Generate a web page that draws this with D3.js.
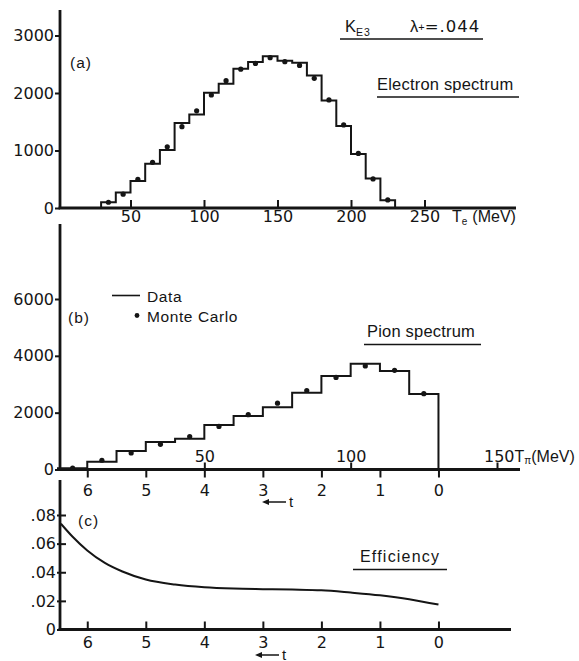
<!DOCTYPE html>
<html>
<head>
<meta charset="utf-8">
<script src="https://cdn.jsdelivr.net/npm/d3@7"></script>
<style>
  body { margin: 0; background: #fff; }
  svg { display: block; }
  .lbl { font-family: "Liberation Sans", Arial, sans-serif; fill: #151515; }
  .num { font-family: "DejaVu Sans", sans-serif; fill: #151515; }
</style>
</head>
<body>
<svg id="chart" width="579" height="661"></svg>
<script>
// ---------- data ----------
// (a) electron kinetic energy spectrum, 10 MeV bins (lower edges, MeV)
const electronBins = [30, 40, 50, 60, 70, 80, 90, 100, 110, 120, 130, 140, 150, 160, 170, 180, 190, 200, 210, 220];
const electronData = [100, 270, 470, 770, 1010, 1480, 1625, 2005, 2160, 2420, 2540, 2640, 2560, 2525, 2305, 1870, 1425, 940, 515, 135];
const electronMC   = [100, 240, 500, 795, 1065, 1415, 1690, 1965, 2215, 2415, 2515, 2615, 2545, 2480, 2255, 1880, 1445, 950, 505, 140];
const electronXTicks = [50, 100, 150, 200, 250];
const electronYTicks = [0, 1000, 2000, 3000];

// (b) pion kinetic energy spectrum, 10 MeV bins (lower edges, MeV)
const pionBins = [0, 10, 20, 30, 40, 50, 60, 70, 80, 90, 100, 110, 120];
const pionData = [40, 275, 650, 965, 1080, 1565, 1880, 2195, 2705, 3290, 3720, 3465, 2660];
const pionMC   = [45, 325, 580, 885, 1160, 1515, 1930, 2335, 2780, 3240, 3645, 3490, 2670];
const pionXTicks = [50, 100, 150];
const pionYTicks = [0, 2000, 4000, 6000];

// momentum transfer t, shared by (b) and (c)
const tTicks = [6, 5, 4, 3, 2, 1, 0];

// (c) detection efficiency versus t
const effT   = [6.45, 6.25, 6, 5.7, 5.4, 5, 4.5, 4, 3.5, 3, 2.5, 2, 1.5, 1, 0.5, 0];
const effVal = [0.0739, 0.0648, 0.0552, 0.0465, 0.0405, 0.0349, 0.0314, 0.0295, 0.0286, 0.0282, 0.0279, 0.0274, 0.0258, 0.0239, 0.0212, 0.0174];
const effYTicks = [0, 0.02, 0.04, 0.06, 0.08];

const binWidth = 10;

// ---------- drawing ----------
const ink = "#151515";
const svg = d3.select("#chart");

// panel frames
const A = { left: 60, right: 516, top: 10, base: 208 };
const B = { left: 60, right: 520, top: 224, base: 469.5 };
const C = { left: 60, right: 511, top: 480, base: 629.5 };

const xE  = d3.scaleLinear().domain([0, 250]).range([57, 424.5]);
const yA  = d3.scaleLinear().domain([0, 3000]).range([A.base, 35.5]);
const xPi = d3.scaleLinear().domain([0, 150]).range([58, 497]);
const tS  = d3.scaleLinear().domain([0, 6]).range([xPi(130), xPi(10)]);
const yB  = d3.scaleLinear().domain([0, 6000]).range([B.base, 299]);
const yC  = d3.scaleLinear().domain([0, 0.08]).range([C.base, 515]);

function frame(p) {
  svg.append("line").attr("x1", p.left).attr("x2", p.left).attr("y1", p.top).attr("y2", p.base)
    .attr("stroke", ink).attr("stroke-width", 2.8);
  svg.append("line").attr("x1", p.left - 1.4).attr("x2", p.right).attr("y1", p.base).attr("y2", p.base)
    .attr("stroke", ink).attr("stroke-width", 2.8);
}

function styleAxis(g, size) {
  g.select(".domain").remove();
  g.selectAll(".tick line").attr("stroke", ink).attr("stroke-width", 2);
  g.selectAll(".tick text").attr("class", "num").attr("fill", ink)
    .style("font-size", (size || 16) + "px");
}

function histogram(x, y, bins, vals) {
  const pts = [[bins[0], 0]];
  bins.forEach((b, i) => pts.push([b, vals[i]]));
  pts.push([bins[bins.length - 1] + binWidth, 0]);
  const line = d3.line().x(d => x(d[0])).y(d => y(d[1])).curve(d3.curveStepAfter);
  svg.append("path").attr("d", line(pts)).attr("fill", "none")
    .attr("stroke", ink).attr("stroke-width", 2).attr("stroke-linejoin", "miter");
}

function dots(x, y, bins, vals) {
  svg.append("g").selectAll("circle").data(bins).join("circle")
    .attr("cx", (b) => x(b + binWidth / 2))
    .attr("cy", (b, i) => y(vals[i]))
    .attr("r", 2.6).attr("fill", ink);
}

function label(x, y, txt, size, spacing) {
  return svg.append("text").attr("class", "lbl").attr("x", x).attr("y", y)
    .style("font-size", (size || 16) + "px")
    .style("letter-spacing", (spacing || 0) + "px")
    .text(txt);
}

function underline(x1, x2, y) {
  svg.append("line").attr("x1", x1).attr("x2", x2).attr("y1", y).attr("y2", y)
    .attr("stroke", ink).attr("stroke-width", 1.6);
}

function tArrow(x, y) {
  svg.append("path").attr("d", `M${x + 24},${y} H${x + 4}`).attr("stroke", ink).attr("stroke-width", 1.5);
  svg.append("path").attr("d", `M${x},${y} L${x + 7},${y - 3} L${x + 7},${y + 3} Z`).attr("fill", ink);
  label(x + 27, y + 4.5, "t", 15);
}

const intFmt = d3.format("d");

// ===== (a) electron spectrum =====
frame(A);
svg.append("g").attr("transform", `translate(${A.left},0)`)
  .call(d3.axisLeft(yA).tickValues(electronYTicks).tickSize(5).tickPadding(1).tickFormat(intFmt))
  .call(g => styleAxis(g));
svg.append("g").attr("transform", `translate(0,${A.base})`)
  .call(d3.axisBottom(xE).tickValues(electronXTicks).tickSizeInner(-8).tickSizeOuter(0).tickPadding(3).tickFormat(intFmt))
  .call(g => styleAxis(g));
histogram(xE, yA, electronBins, electronData);
dots(xE, yA, electronBins, electronMC);

label(70, 68, "(a)", 15.5, 1);
// T_e (MeV)
const te = label(452, 222, "T", 16);
te.append("tspan").attr("dy", 3).style("font-size", "10px").text("e");
te.append("tspan").attr("dy", -3).attr("dx", 5).text("(MeV)");

// title block
const k = label(345, 32, "K", 16.5);
k.append("tspan").attr("dy", 3.5).style("font-size", "10.5px").style("letter-spacing", "1px").text("E3");
const lam = label(410, 32, "λ", 16.5);
lam.append("tspan").attr("dy", -1).style("font-size", "11px").text("+");
lam.append("tspan").attr("dy", 1).attr("class", "num").style("letter-spacing", "1px").text("=.044");
underline(340, 483, 39);

label(377, 90, "Electron spectrum", 16.5, 0.2);
underline(377, 519, 97);

// ===== (b) pion spectrum =====
frame(B);
svg.append("g").attr("transform", `translate(${B.left},0)`)
  .call(d3.axisLeft(yB).tickValues(pionYTicks).tickSize(5).tickPadding(1).tickFormat(intFmt))
  .call(g => styleAxis(g));
svg.append("g").attr("transform", `translate(0,${B.base})`)
  .call(d3.axisTop(xPi).tickValues(pionXTicks).tickSize(7).tickPadding(1)
    .tickFormat(d => d === 150 ? "" : intFmt(d)))
  .call(g => styleAxis(g));
svg.append("g").attr("transform", `translate(0,${B.base})`)
  .call(d3.axisBottom(tS).tickValues(tTicks).tickSize(8).tickPadding(7).tickFormat(intFmt))
  .call(g => styleAxis(g));
histogram(xPi, yB, pionBins, pionData);
dots(xPi, yB, pionBins, pionMC);

// T_pi (MeV) axis title next to the 150 tick
const tp = svg.append("text").attr("class", "num").attr("x", xPi(150) - 13).attr("y", 462)
  .style("font-size", "16px").text("150");
tp.append("tspan").attr("class", "lbl").text("T");
tp.append("tspan").attr("class", "lbl").attr("dy", 2).style("font-size", "10px").text("π");
tp.append("tspan").attr("class", "lbl").attr("dy", -2).text("(MeV)");

tArrow(262, 502);
label(68, 323, "(b)", 15.5, 1);

// legend
svg.append("line").attr("x1", 112).attr("x2", 140).attr("y1", 295.5).attr("y2", 295.5)
  .attr("stroke", ink).attr("stroke-width", 1.6);
label(147, 302, "Data", 15.5, 0.6);
svg.append("circle").attr("cx", 137).attr("cy", 315.5).attr("r", 2.4).attr("fill", ink);
label(147, 322, "Monte Carlo", 15.5, 0.6);

label(367, 337, "Pion spectrum", 16.5, 0.2);
underline(364, 481, 344.5);

// ===== (c) efficiency =====
frame(C);
svg.append("g").attr("transform", `translate(${C.left},0)`)
  .call(d3.axisLeft(yC).tickValues(effYTicks).tickSizeInner(-6).tickPadding(4)
    .tickFormat(d => d === 0 ? "0" : d3.format(".2f")(d).replace(/^0/, "")))
  .call(g => styleAxis(g))
  .call(g => g.selectAll(".tick line").attr("x1", -3));
svg.append("g").attr("transform", `translate(0,${C.base})`)
  .call(d3.axisBottom(tS).tickValues(tTicks).tickSizeInner(-8).tickSizeOuter(0).tickPadding(7).tickFormat(intFmt))
  .call(g => styleAxis(g));

const effLine = d3.line().x((d, i) => tS(effT[i])).y(d => yC(d)).curve(d3.curveMonotoneX);
svg.append("path").attr("d", effLine(effVal)).attr("fill", "none")
  .attr("stroke", ink).attr("stroke-width", 2);

tArrow(255, 655);
label(78, 526, "(c)", 15.5, 1);
label(360, 562, "Efficiency", 16, 1.2);
underline(353, 447, 569.5);
</script>
</body>
</html>
